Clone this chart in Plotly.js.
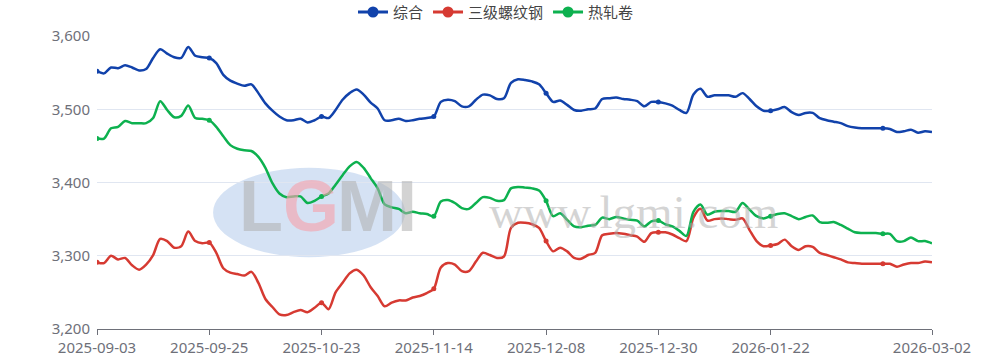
<!DOCTYPE html>
<html>
<head>
<meta charset="utf-8">
<script src="https://cdn.plot.ly/plotly-3.0.1.min.js"></script>
<style>html,body{margin:0;padding:0;background:#fff;}#chart{width:992px;height:360px;}</style>
</head>
<body>
<div id="chart"></div>
<script>
// Tick labels (category axis of trading days; labels every 16 points plus the last)
const tickLabels = ["2025-09-03","2025-09-25","2025-10-23","2025-11-14","2025-12-08","2025-12-30","2026-01-22","2026-03-02"];
const tickIndex = [0,16,32,48,64,80,96,119];
const seriesNames = ["综合","三级螺纹钢","热轧卷"];

const composite = [
3552,3549,3557,3556,3560,3557,3553,3555,3570,3582,3576,3571,3570,3585,3573,3571,3570,3563,3547,3539,
3535,3532,3534,3522,3508,3498,3490,3485,3485,3487,3482,3485,3490,3488,3499,3513,3522,3527,3520,3509,
3501,3485,3485,3487,3484,3485,3487,3488,3490,3510,3513,3511,3504,3504,3513,3520,3519,3514,3515,3536,
3541,3540,3538,3534,3522,3510,3512,3506,3499,3498,3500,3501,3514,3515,3516,3514,3513,3511,3504,3510,
3510,3508,3505,3499,3495,3520,3528,3517,3519,3519,3519,3517,3522,3514,3504,3498,3498,3500,3503,3496,
3492,3495,3495,3488,3485,3483,3481,3477,3475,3474,3474,3474,3474,3473,3469,3470,3472,3468,3470,3469
];
const rebar = [
3291,3290,3300,3295,3297,3287,3281,3288,3301,3323,3320,3311,3313,3333,3320,3317,3318,3304,3283,3277,
3275,3273,3278,3263,3241,3230,3220,3219,3223,3226,3223,3229,3236,3227,3250,3263,3276,3281,3273,3257,
3245,3231,3236,3239,3239,3243,3245,3249,3255,3284,3290,3288,3279,3279,3292,3304,3301,3297,3299,3338,
3345,3345,3343,3338,3320,3306,3311,3306,3297,3296,3301,3304,3328,3330,3331,3330,3328,3326,3319,3331,
3332,3332,3329,3324,3320,3352,3364,3348,3350,3351,3350,3349,3351,3335,3320,3313,3314,3316,3322,3313,
3308,3313,3312,3304,3301,3298,3295,3291,3290,3289,3289,3289,3289,3289,3285,3288,3290,3290,3292,3291
];
const hotRolled = [
3460,3460,3474,3476,3484,3481,3481,3481,3488,3511,3499,3489,3491,3505,3488,3487,3485,3476,3463,3451,
3446,3444,3443,3435,3420,3399,3385,3380,3381,3381,3372,3375,3381,3385,3397,3410,3422,3428,3420,3406,
3392,3370,3366,3364,3358,3360,3358,3357,3354,3374,3376,3372,3365,3364,3372,3380,3379,3375,3376,3392,
3394,3393,3392,3389,3375,3354,3358,3349,3340,3339,3341,3342,3352,3350,3353,3351,3349,3348,3340,3347,
3348,3343,3340,3334,3327,3360,3370,3356,3360,3361,3361,3360,3372,3363,3354,3351,3354,3357,3358,3354,
3350,3353,3355,3346,3345,3346,3342,3337,3332,3331,3331,3331,3330,3330,3320,3320,3325,3320,3320,3317
];

const colors = ["#1142ab","#d63a32","#0db14f"];
const allSeries = [composite, rebar, hotRolled];
const xIdx = composite.map((_, i) => i);
const symbolIdx = [0,16,32,48,64,80,96,112];

const traces = [];
allSeries.forEach((vals, k) => {
  traces.push({
    x: xIdx, y: vals, type: "scatter", mode: "lines",
    name: seriesNames[k], showlegend: false,
    line: {color: colors[k], width: 2.5, shape: "spline", smoothing: 0.8},
    hoverinfo: "y+name"
  });
  traces.push({
    x: symbolIdx, y: symbolIdx.map(i => vals[i]), type: "scatter", mode: "markers",
    name: seriesNames[k], showlegend: false,
    marker: {color: colors[k], size: 5}, hoverinfo: "skip"
  });
});
// legend entries
seriesNames.forEach((n, k) => {
  traces.push({
    x: [null], y: [null], type: "scatter", mode: "lines+markers", name: n,
    line: {color: colors[k], width: 3}, marker: {color: colors[k], size: 11}
  });
});

const layout = {
  width: 992, height: 360,
  margin: {l: 97, r: 60, t: 36, b: 31},
  paper_bgcolor: "#ffffff", plot_bgcolor: "#ffffff",
  font: {family: "Noto Sans, Noto Sans CJK SC, sans-serif", size: 15, color: "#6e7079"},
  showlegend: true,
  legend: {orientation: "h", x: 0.5, xanchor: "center", xref: "container",
           y: 0.966, yref: "container", yanchor: "middle",
           font: {family: "Noto Sans CJK SC, sans-serif", size: 15, color: "#444"},
           itemwidth: 30, tracegroupgap: 0},
  xaxis: {
    range: [0, 119], tickmode: "array", tickvals: tickIndex, ticktext: tickLabels,
    showgrid: false, zeroline: false, showline: true, linecolor: "#6e7079", linewidth: 1,
    ticks: "outside", ticklen: 5, tickcolor: "#6e7079",
    tickfont: {size: 15, color: "#6e7079"}, fixedrange: true
  },
  yaxis: {
    range: [3200, 3600], dtick: 100, tick0: 3200, tickformat: ",d",
    showgrid: true, gridcolor: "#e0e6f1", gridwidth: 1, zeroline: false, showline: false,
    ticks: "", ticklabelstandoff: 6, tickfont: {size: 15, color: "#6e7079"}, fixedrange: true
  },
  shapes: [
    {type: "circle", xref: "paper", yref: "paper", x0: 0.139, x1: 0.369, y0: 0.245, y1: 0.55,
     fillcolor: "rgba(185,207,236,0.6)", line: {width: 0}, layer: "below"}
  ],
  annotations: [
    {xref: "paper", yref: "paper", x: 0.196, y: 0.42, xanchor: "center", yanchor: "middle", showarrow: false,
     text: "<b>L</b>", font: {family: "Liberation Sans, Arial, sans-serif", size: 72, color: "rgba(175,175,175,0.55)"}},
    {xref: "paper", yref: "paper", x: 0.256, y: 0.42, xanchor: "center", yanchor: "middle", showarrow: false,
     text: "<b>G</b>", font: {family: "Liberation Sans, Arial, sans-serif", size: 72, color: "rgba(245,165,175,0.65)"}},
    {xref: "paper", yref: "paper", x: 0.335, y: 0.42, xanchor: "center", yanchor: "middle", showarrow: false,
     text: "<b>MI</b>", font: {family: "Liberation Sans, Arial, sans-serif", size: 72, color: "rgba(175,175,175,0.55)"}},
    {xref: "paper", yref: "paper", x: 0.642, y: 0.398, xanchor: "center", yanchor: "middle", showarrow: false,
     text: "www.lgmi.com",
     font: {family: "Liberation Serif, serif", size: 47, color: "rgba(170,170,170,0.5)"}}
  ]
};

Plotly.newPlot("chart", traces, layout, {displayModeBar: false, staticPlot: true});
</script>
</body>
</html>
